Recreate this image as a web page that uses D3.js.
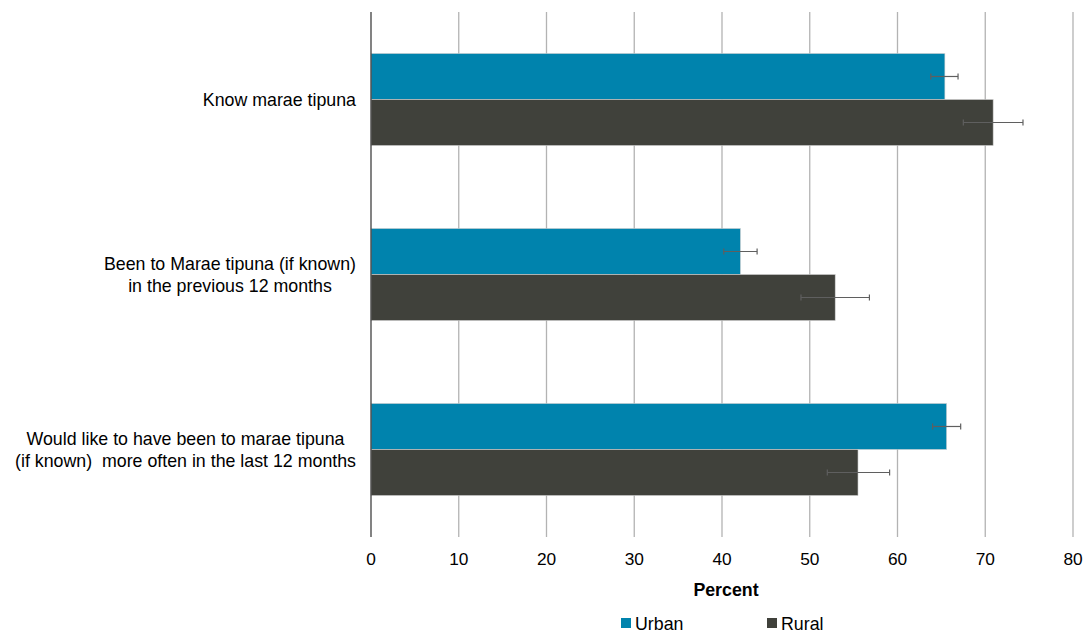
<!DOCTYPE html>
<html><head><meta charset="utf-8">
<script src="https://cdn.jsdelivr.net/npm/d3@7"></script>
<style>body{margin:0;background:#fff}svg{display:block;font-family:"Liberation Sans",Arial,sans-serif}text{white-space:pre}</style>
</head><body><svg id="c" width="1086" height="632"></svg>
<script>
const categories = [
  ["Know marae tipuna"],
  ["Been to Marae tipuna (if known)", "in the previous 12 months"],
  ["Would like to have been to marae tipuna", "(if known)  more often in the last 12 months"]
];
const seriesNames = ["Urban", "Rural"];
const urban = [65.4, 42.1, 65.6];
const urbanLow = [63.8, 40.2, 64.0];
const urbanHigh = [66.9, 44.0, 67.2];
const rural = [70.9, 52.9, 55.5];
const ruralLow = [67.5, 49.0, 52.0];
const ruralHigh = [74.3, 56.8, 59.1];
const xTicks = [0, 10, 20, 30, 40, 50, 60, 70, 80];
const colors = ["#0083ad", "#40413b"];

const svg = d3.select("#c");
const pLeft = 371, pRight = 1073, pTop = 12, pBottom = 537;
const fs = 17.8;
const x = d3.scaleLinear().domain([0, 80]).range([pLeft, pRight]);
const y = d3.scaleBand().domain(d3.range(categories.length)).range([pTop, pBottom]).paddingInner(0.474).paddingOuter(0.237);
const ys = d3.scaleBand().domain(seriesNames).range([0, y.bandwidth()]);

// gridlines
svg.append("g").selectAll("line").data(xTicks.filter(d => d > 0)).join("line")
  .attr("x1", d => x(d)).attr("x2", d => x(d)).attr("y1", pTop).attr("y2", pBottom)
  .attr("stroke", "#b3b3b3").attr("stroke-width", 1.3);

const data = [];
categories.forEach((c, i) => {
  data.push({i, s: "Urban", v: urban[i], lo: urbanLow[i], hi: urbanHigh[i], c: colors[0]});
  data.push({i, s: "Rural", v: rural[i], lo: ruralLow[i], hi: ruralHigh[i], c: colors[1]});
});

svg.append("g").selectAll("rect").data(data).join("rect")
  .attr("x", x(0)).attr("y", d => y(d.i) + ys(d.s))
  .attr("width", d => x(d.v) - x(0)).attr("height", ys.bandwidth())
  .attr("fill", d => d.c).attr("stroke", "#d0d0d0").attr("stroke-width", 0.6);

const eb = svg.append("g").attr("stroke", "#5f5f5f").attr("stroke-width", 1.2);
data.forEach(d => {
  const cy = y(d.i) + ys(d.s) + ys.bandwidth() / 2;
  eb.append("line").attr("x1", x(d.lo)).attr("x2", x(d.hi)).attr("y1", cy).attr("y2", cy);
  eb.append("line").attr("x1", x(d.lo)).attr("x2", x(d.lo)).attr("y1", cy - 3).attr("y2", cy + 3);
  eb.append("line").attr("x1", x(d.hi)).attr("x2", x(d.hi)).attr("y1", cy - 3).attr("y2", cy + 3);
});

// axis line at 0
svg.append("line").attr("x1", x(0)).attr("x2", x(0)).attr("y1", pTop).attr("y2", pBottom)
  .attr("stroke", "#404040").attr("stroke-width", 1.3);

// tick labels
svg.append("g").selectAll("text").data(xTicks).join("text")
  .attr("x", d => x(d)).attr("y", 564.5).attr("text-anchor", "middle")
  .attr("font-size", 17.3).attr("fill", "#000").text(d => d);

svg.append("text").attr("x", (pLeft + pRight) / 2 + 4).attr("y", 595.5).attr("text-anchor", "middle")
  .attr("font-size", fs).attr("font-weight", "bold").text("Percent");

// category labels
const lh = 21.5;
categories.forEach((lines, i) => {
  const cy = y(i) + y.bandwidth() / 2;
  const g = svg.append("g");
  const texts = lines.map((t, k) => g.append("text").attr("font-size", fs).attr("text-anchor", "middle")
      .attr("y", cy + (k - (lines.length - 1) / 2) * lh + 6.5).text(t));
  const w = d3.max(texts, t => t.node().getComputedTextLength());
  const cx = 356 - w / 2;
  texts.forEach(t => t.attr("x", cx));
});

// legend
const legX = [621, 767];
seriesNames.forEach((s, k) => {
  svg.append("rect").attr("x", legX[k]).attr("y", 618).attr("width", 10).attr("height", 10).attr("fill", colors[k]);
  svg.append("text").attr("x", legX[k] + 14).attr("y", 629.5).attr("font-size", fs).text(s);
});
</script></body></html>
